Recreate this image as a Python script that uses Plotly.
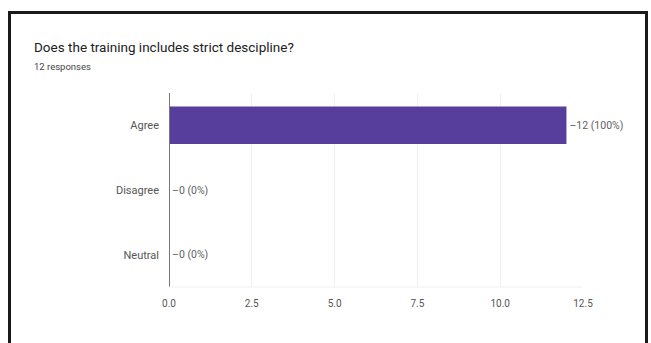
import plotly.graph_objects as go

categories = ["Agree", "Disagree", "Neutral"]
counts = [12, 0, 0]
percents = ["100%", "0%", "0%"]
tick_vals = [0, 2.5, 5, 7.5, 10, 12.5]
tick_text = ["0.0", "2.5", "5.0", "7.5", "10.0", "12.5"]

labels = [f"\u2013{c} ({p})" for c, p in zip(counts, percents)]

L, T, B = 169, 93, 287
PW, PH = 414, B - T


def px(x):
    return (x - L) / PW


def py(y):
    return (B - y) / PH


fig = go.Figure(go.Bar(
    x=counts, y=categories, orientation="h",
    marker=dict(color="#573d9c", line=dict(width=0)),
    width=0.58,
    text=labels, textposition="outside", cliponaxis=False,
    textfont=dict(size=10.5, color="#5f5f5f", family="Roboto"),
))

fig.update_layout(
    width=651, height=343,
    margin=dict(l=L, r=651 - L - PW, t=T, b=343 - B),
    paper_bgcolor="white", plot_bgcolor="white",
    showlegend=False,
    font=dict(family="Roboto", size=10.5, color="#555555"),
    xaxis=dict(range=[0, 12.5], tickvals=tick_vals, ticktext=tick_text,
               showgrid=True, gridcolor="#f0f0f0", gridwidth=1,
               zeroline=False, showline=False, ticks="",
               ticklabelstandoff=9,
               tickfont=dict(size=10, color="#555555")),
    yaxis=dict(categoryorder="array", categoryarray=categories[::-1],
               showgrid=False, zeroline=False, showline=False,
               ticks="", ticklabelstandoff=9,
               tickfont=dict(size=11, color="#555555")),
    shapes=[
        dict(type="line", xref="x", yref="paper", x0=0, x1=0, y0=0, y1=1.0,
             line=dict(color="#777777", width=2)),
        dict(type="line", xref="paper", yref="paper", x0=0, x1=1, y0=0, y1=0,
             line=dict(color="#f0f0f0", width=1)),
        dict(type="rect", xref="paper", yref="paper",
             x0=px(9.5), x1=px(646.5), y0=py(360), y1=py(12.5),
             line=dict(color="#1a1a1a", width=3), fillcolor="rgba(0,0,0,0)", layer="above"),
    ],
    annotations=[
        dict(text="Does the training includes strict descipline?", xref="paper", yref="paper",
             x=px(32), y=py(47), xanchor="left", yanchor="middle", showarrow=False,
             font=dict(size=13.5, color="#222222", family="Roboto")),
        dict(text="12 responses", xref="paper", yref="paper",
             x=px(32), y=py(66), xanchor="left", yanchor="middle", showarrow=False,
             font=dict(size=9.5, color="#444444", family="Roboto")),
    ],
)

fig.write_html("out.html")
